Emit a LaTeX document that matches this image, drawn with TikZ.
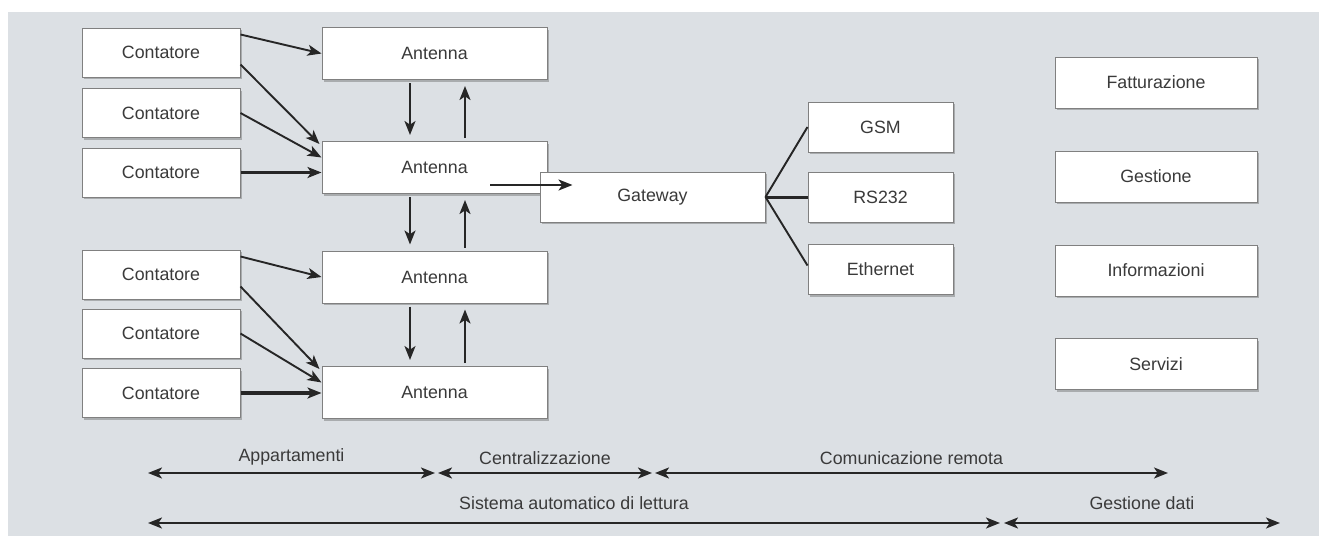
\documentclass[tikz,border=0pt]{standalone}
\usepackage{fontspec}
\setmainfont{Liberation Sans}
\usetikzlibrary{arrows.meta,shadows}
\definecolor{bgpanel}{HTML}{DCE0E4}
\definecolor{boxline}{HTML}{808080}
\definecolor{txtgrey}{HTML}{3A3A3A}
\tikzset{
  unit/.style={draw=boxline, line width=0.5pt, fill=white, inner sep=0pt, text=txtgrey,
    font=\fontsize{8.9}{10}\selectfont,
    drop shadow={shadow xshift=1.2pt, shadow yshift=-1.2pt, opacity=0.35, fill=black!70}},
  meterbox/.style={unit, minimum width=79pt, minimum height=24.5pt},
  antbox/.style={unit, minimum width=112.5pt, minimum height=26pt},
  linkbox/.style={unit, minimum width=72.5pt, minimum height=25pt},
  databox/.style={unit, minimum width=101pt, minimum height=25.5pt},
  flow/.style={-{Stealth[length=7pt,width=5.5pt,inset=1.8pt]}, line width=0.95pt, draw=black!85},
  span/.style={{Stealth[length=7pt,width=5.5pt,inset=1.8pt]}-{Stealth[length=7pt,width=5.5pt,inset=1.8pt]},
    line width=0.95pt, draw=black!85},
  spantext/.style={above=3.5pt, text=txtgrey, font=\fontsize{8.9}{10}\selectfont, inner sep=0pt}
}
\begin{document}
\begin{tikzpicture}[x=0.5pt, y=-0.5pt]
  \useasboundingbox (0,0) rectangle (1319,536);
  \fill[bgpanel] (8,12) rectangle (1319,536);

  \node[meterbox] (c1) at (161,52.5) {Contatore}; \node[meterbox] (c2) at (161,113) {Contatore};
  \node[meterbox] (c3) at (161,172.5) {Contatore}; \node[meterbox] (c4) at (161,274.5) {Contatore};
  \node[meterbox] (c5) at (161,333.5) {Contatore}; \node[meterbox] (c6) at (161,393) {Contatore};

  \node[antbox] (a1) at (434.5,53.5) {Antenna}; \node[antbox] (a2) at (434.5,167.5) {Antenna};
  \node[antbox] (a3) at (434.5,277) {Antenna}; \node[antbox] (a4) at (434.5,392.5) {Antenna};

  \node[unit, minimum width=112.5pt, minimum height=25pt] (gw) at (652.5,197) {Gateway};

  \node[linkbox] (gsm) at (880.5,127) {GSM}; \node[linkbox] (rs) at (880.5,197) {RS232};
  \node[linkbox] (eth) at (880.5,269.5) {Ethernet};

  \node[databox] (fat) at (1156,82.5) {Fatturazione}; \node[databox] (ges) at (1156,176.5) {Gestione};
  \node[databox] (inf) at (1156,270.5) {Informazioni}; \node[databox] (ser) at (1156,364) {Servizi};

  \draw[flow] ([yshift=-3.5pt]c1.north east) -- (a1.west);
  \draw[flow] ([yshift=-6pt]c1.east) -- ([xshift=-1pt,yshift=-1.5pt]a2.north west);
  \draw[flow] (c2.east) -- ([yshift=5pt]a2.west);
  \draw[flow, line width=1.7pt] (c3.east) -- (c3.east -| a2.west);
  \draw[flow] ([yshift=-3.5pt]c4.north east) -- (a3.west);
  \draw[flow] ([yshift=-6pt]c4.east) -- ([xshift=-1pt,yshift=-1.5pt]a4.north west);
  \draw[flow] (c5.east) -- ([yshift=5pt]a4.west);
  \draw[flow, line width=1.7pt] (c6.east) -- (c6.east -| a4.west);

  \draw[flow, shorten <=1.5pt, shorten >=3pt] ([xshift=-12.25pt]a1.south) -- ([xshift=-12.25pt]a2.north);
  \draw[flow, shorten <=1.5pt, shorten >=3pt] ([xshift=15.25pt]a2.north) -- ([xshift=15.25pt]a1.south);
  \draw[flow, shorten <=1.5pt, shorten >=3pt] ([xshift=-12.25pt]a2.south) -- ([xshift=-12.25pt]a3.north);
  \draw[flow, shorten <=1.5pt, shorten >=3pt] ([xshift=15.25pt]a3.north) -- ([xshift=15.25pt]a2.south);
  \draw[flow, shorten <=1.5pt, shorten >=3pt] ([xshift=-12.25pt]a3.south) -- ([xshift=-12.25pt]a4.north);
  \draw[flow, shorten <=1.5pt, shorten >=3pt] ([xshift=15.25pt]a4.north) -- ([xshift=15.25pt]a3.south);

  \coordinate (gwin) at ([xshift=-40pt,yshift=6pt]gw.center);
  \draw[flow] ([xshift=27.75pt,yshift=-8.75pt]a2.center) -- (gwin);

  \draw[line width=0.95pt, draw=black!85] (gw.east) -- (gsm.west); \draw[line width=1.5pt, draw=black!85] (gw.east) -- (rs.west);
  \draw[line width=0.95pt, draw=black!85] (gw.east) -- ([yshift=2pt]eth.west);

  \coordinate (r1a) at (148,473); \coordinate (r1b) at (435,473); \coordinate (r1c) at (438,473);
  \coordinate (r1d) at (652,473); \coordinate (r1e) at (655,473); \coordinate (r1f) at (1168,473);
  \coordinate (r2a) at (148,523); \coordinate (r2b) at (1000,523); \coordinate (r2c) at (1004,523);
  \coordinate (r2d) at (1280,523);
  \draw[span] (r1a) -- node[spantext] {Appartamenti} (r1b);
  \draw[span] (r1c) -- node[spantext] {Centralizzazione} (r1d);
  \draw[span] (r1e) -- node[spantext] {Comunicazione remota} (r1f);
  \draw[span] (r2a) -- node[spantext, above=2.5pt] {Sistema automatico di lettura} (r2b);
  \draw[span] (r2c) -- node[spantext, above=2.5pt] {Gestione dati} (r2d);
\end{tikzpicture}
\end{document}
